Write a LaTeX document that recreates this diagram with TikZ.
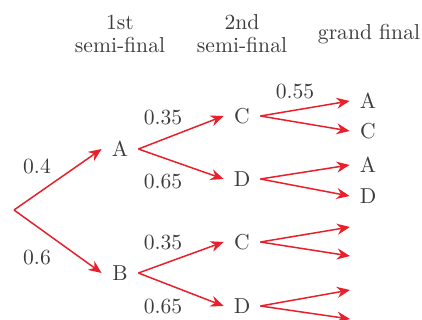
\documentclass[tikz,border=0pt]{standalone}
\usetikzlibrary{arrows.meta}
\definecolor{arrred}{RGB}{232,32,44}
\definecolor{txt}{RGB}{60,60,60}
\begin{document}
\begin{tikzpicture}[x=0.5pt,y=-0.5pt,
  lbl/.style={font=\fontsize{10.8}{13}\selectfont, text=txt, inner sep=0pt},
  let/.style={lbl, minimum width=18pt, minimum height=10pt},
  arr/.style={draw=arrred, line width=0.75pt, -{Stealth[length=6.5pt,width=5.5pt]}}]
\useasboundingbox (0,0) rectangle (422,320);
% headers
\node[lbl] (h1a) at (120,22) {1st};
\node[lbl] (h1b) at (120,45) {semi-final};
\node[lbl] (h2a) at (242,22) {2nd};
\node[lbl] (h2b) at (242,45) {semi-final};
\node[lbl] (h3) at (369,34) {grand final};
% nodes
\coordinate (r) at (14,210);
\node[let] (A) at (120,149) {A};
\node[let] (B) at (120,273) {B};
\node[let] (C1) at (242,116) {C};
\node[let] (D1) at (242,179) {D};
\node[let] (C2) at (242,242) {C};
\node[let] (D2) at (242,306) {D};
\node[let] (F1) at (368,101) {A};
\node[let] (F2) at (368,131) {C};
\node[let] (F3) at (368,165) {A};
\node[let] (F4) at (368,196) {D};
\coordinate (E1) at (350,227);
\coordinate (E2) at (350,256);
\coordinate (E3) at (350,290);
\coordinate (E4) at (350,319);
% arrows
\draw[arr] (r) -- (A.west);
\draw[arr] (r) -- (B.west);
\draw[arr] (A.east) -- (C1.west);
\draw[arr] (A.east) -- (D1.west);
\draw[arr] (B.east) -- (C2.west);
\draw[arr] (B.east) -- (D2.west);
\draw[arr] (C1.east) -- (F1.west);
\draw[arr] (C1.east) -- (F2.west);
\draw[arr] (D1.east) -- (F3.west);
\draw[arr] (D1.east) -- (F4.west);
\draw[arr] (C2.east) -- (E1);
\draw[arr] (C2.east) -- (E2);
\draw[arr] (D2.east) -- (E3);
\draw[arr] (D2.east) -- (E4);
% probabilities
\node[lbl] (p1) at (37,166) {0.4};
\node[lbl] (p2) at (37,258) {0.6};
\node[lbl] (p3) at (163,118) {0.35};
\node[lbl] (p4) at (163,182) {0.65};
\node[lbl] (p5) at (163,243) {0.35};
\node[lbl] (p6) at (163,307) {0.65};
\node[lbl] (p7) at (295,92) {0.55};
\end{tikzpicture}
\end{document}
